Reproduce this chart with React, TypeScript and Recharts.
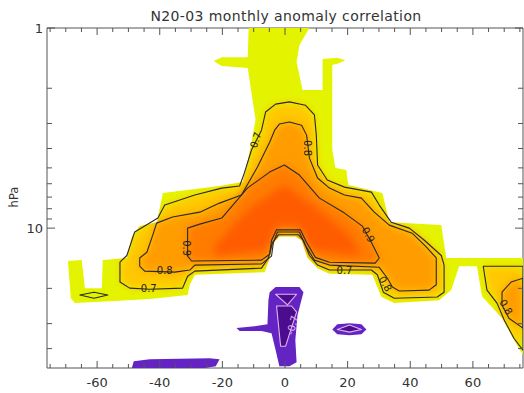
import React from 'react';
import { ScatterChart, Scatter, XAxis, YAxis } from 'recharts';

type Pt = [number, number]; // [degrees, hPa]

const chartTitle = 'N20-03 monthly anomaly correlation';
const xTicks = [-75, -70, -65, -60, -55, -50, -45, -40, -35, -30, -25, -20, -15, -10, -5, 0, 5, 10, 15, 20, 25, 30, 35, 40, 45, 50, 55, 60, 65, 70, 75];
const xLabels = [-60, -40, -20, 0, 20, 40, 60];
const yTicks = [1, 2, 3, 4, 5, 6, 7, 8, 9, 10, 20, 30, 40];
const yLabels = [1, 10];

// +0.6 shaded region (outer yellow edge)
const pos06: Pt[] = [
  [-11.6, 1], [7.8, 1], [4.6, 1.22], [3.7, 1.48], [5.6, 2.04], [12.0, 2.04], [12.0, 1.43], [16.7, 1.41],
  [19.3, 1.45], [16.7, 1.51], [15.1, 1.53], [15.1, 4.07], [16.1, 5.01], [19.6, 5.13], [20.2, 6.09],
  [31.1, 6.68], [33.3, 9.34], [49.9, 9.66], [51.5, 14.1], [76, 14.1], [76, 43.1], [74.1, 38.5],
  [69.3, 28.2], [62.9, 21.9], [61.3, 15.5], [55.6, 15.5], [53.1, 20.4], [49.2, 22.9], [34.9, 23.7],
  [30.8, 22.1], [27.9, 17.1], [14.2, 16.9], [10.4, 15.85], [7.2, 14.1], [5.3, 11.5], [3.3, 11.0],
  [-1.8, 11.0], [-3.7, 11.8], [-4.9, 14.1], [-6.5, 16.6], [-28.8, 17.1], [-30.4, 19.2], [-31.1, 21.6],
  [-43.2, 22.6], [-55.9, 23.2], [-67.1, 23.7], [-68.4, 22.4], [-69.3, 14.6], [-64.9, 14.45],
  [-63.9, 19.95], [-58.5, 19.95], [-58.2, 14.45], [-50.5, 14.1], [-48.9, 11.0], [-46.4, 9.77],
  [-40.9, 9.34], [-39.0, 6.68], [-20.9, 6.16], [-13.5, 5.89], [-12.3, 4.95], [-11.0, 3.94], [-9.4, 2.88],
  [-11.9, 1.585], [-20.2, 1.55], [-22.8, 1.46], [-20.2, 1.4], [-11.9, 1.4],
];

const pos07: Pt[] = [
  [-7.5, 3.24], [-6.2, 2.63], [-3.0, 2.4], [1.4, 2.34], [6.5, 2.43], [9.4, 2.72], [10.0, 3.43], [10.4, 4.84],
  [13.5, 5.75], [19.0, 6.24], [27.6, 6.61], [30.1, 7.67], [33.9, 9.34], [39.7, 10], [44.5, 11.5],
  [49.9, 13.7], [50.8, 15.3], [50.8, 20.9], [48.6, 22.1], [34.9, 22.4], [31.4, 20.9], [29.5, 17.1],
  [27.6, 16.2], [14.2, 16.2], [10.4, 15.3], [7.8, 13.7], [5.9, 11.5], [4.3, 10.8], [-2.1, 10.8],
  [-4.0, 11.8], [-5.3, 14.1], [-7.5, 15.85], [-28.8, 16.4], [-31.1, 17.4], [-32.7, 19.95], [-43.2, 20.2],
  [-49.6, 19.95], [-52.7, 18.6], [-52.7, 14.8], [-50.5, 13.7], [-48.0, 10.45], [-44.8, 9.77],
  [-40.6, 8.91], [-38.4, 7.67], [-28.8, 6.83], [-20.2, 6.31], [-14.5, 6.16], [-13.2, 5.43], [-10.7, 4.07],
];
const pos07Lens: Pt[] = [[-65.5, 21.6], [-61.0, 20.9], [-56.6, 21.6], [-61.0, 22.4]];
const pos07East: Pt[] = [[63.3, 15.5], [76, 15.5], [76, 40.7], [73.1, 35.5], [70.0, 28.8], [67.7, 23.7], [64.5, 20.4]];

const pos08: Pt[] = [
  [-3.3, 3.24], [-1.8, 3.02], [1.4, 2.95], [5.3, 3.06], [6.9, 3.43], [7.8, 4.47], [10.4, 5.62], [14.2, 6.31],
  [19.0, 6.83], [24.4, 7.08], [28.5, 8.32], [33.3, 9.66], [40.6, 10.6], [45.1, 12.4], [48.3, 14.1],
  [48.3, 19.2], [46.0, 20.4], [36.5, 20.6], [34.3, 19.7], [32.7, 17.8], [30.1, 15.7], [14.2, 15.3],
  [9.4, 14.45], [6.5, 12.2], [4.6, 10.45], [-2.4, 10.45], [-3.7, 11.8], [-4.3, 13.8], [-7.5, 15.1],
  [-28.8, 15.3], [-30.4, 16.2], [-35.2, 16.6], [-44.8, 16.4], [-46.4, 15.5], [-46.4, 14.1], [-44.1, 13.2],
  [-42.2, 10.8], [-41.0, 9.44], [-35.9, 8.8], [-27.2, 8.32], [-20.9, 7.5], [-13.9, 6.83], [-8.8, 4.95],
  [-4.9, 3.72],
];
const pos08East: Pt[] = [[76, 17.8], [72.2, 18.6], [69.3, 20.9], [69.3, 24.2], [71.5, 28.2], [76, 31.6]];

const pos09: Pt[] = [
  [-31.1, 10], [-27.2, 9.55], [-20.2, 8.91], [-12.0, 6.31], [-4.9, 5.25], [-0.2, 4.84], [4.6, 5.43],
  [11.0, 7.08], [19.0, 8.41], [24.7, 9.77], [27.6, 11.8], [30.1, 14.1], [28.8, 14.96], [14.2, 14.8],
  [9.7, 14.0], [6.9, 11.8], [4.9, 10.2], [-2.7, 10.2], [-4.3, 11.5], [-4.9, 13.5], [-7.5, 14.45],
  [-29.8, 14.6], [-31.1, 13.8],
];
const posCore: Pt[] = [
  [-22.4, 12.2], [-11.3, 7.94], [-0.2, 6.09], [11.0, 8.14], [20.6, 10.8], [24.4, 13.7], [8.4, 12.9],
  [4.6, 9.77], [-2.7, 9.77], [-5.6, 12.9], [-22.4, 13.8],
];

// negative correlation (-0.6 shaded, -0.7 contour)
const neg06Bar: Pt[] = [[-48.9, 50], [-48.3, 46.2], [-43.2, 45.2], [-24.1, 44.7], [-20.9, 45.2], [-22.1, 49.0], [-25.5, 50]];
const neg06Center: Pt[] = [
  [-4.9, 20.9], [-3.0, 19.7], [4.6, 19.7], [5.9, 20.9], [4.0, 27.2], [3.3, 36.3], [3.7, 46.8], [1.4, 49.0],
  [-1.8, 49.0], [-3.0, 40.7], [-4.3, 33.5], [-7.5, 32.7], [-14.5, 32.7], [-15.5, 31.6], [-9.7, 30.9],
  [-5.6, 30.2], [-5.3, 22.9],
];
const neg06Eye: Pt[] = [[15.1, 32.1], [16.7, 30.2], [20.6, 29.85], [24.4, 30.2], [26.0, 32.1], [24.4, 33.9], [20.6, 34.3], [16.7, 33.9]];
const neg07Tri: Pt[] = [[-3.0, 21.4], [3.7, 21.4], [0.8, 24.2]];
const neg07Loop: Pt[] = [[-2.7, 24.5], [-1.4, 38.9], [0.2, 38.9], [1.8, 32.4], [3.7, 26.3], [2.1, 24.5]];
const neg07Eye: Pt[] = [[16.7, 32.1], [20.6, 30.5], [24.4, 32.1], [20.6, 33.1]];

const contourLabels = [
  { lon: -9.4, hpa: 3.63, text: '0.7', angle: -72 },
  { lon: 7.2, hpa: 3.98, text: '0.8', angle: 90 },
  { lon: -31.4, hpa: 12.6, text: '0.9', angle: 90 },
  { lon: 26.6, hpa: 10.8, text: '0.9', angle: 62 },
  { lon: -38.4, hpa: 16.2, text: '0.8', angle: 0 },
  { lon: -43.5, hpa: 19.95, text: '0.7', angle: 0 },
  { lon: 19.0, hpa: 16.2, text: '0.7', angle: 0 },
  { lon: 32.0, hpa: 19.0, text: '0.8', angle: 60 },
  { lon: 70.6, hpa: 24.8, text: '0.8', angle: 60 },
  { lon: 2.4, hpa: 30.5, text: '-0.7', angle: -75 },
];

const axisColor = '#555';
const textColor = '#333';
const lineColor = '#2a2a2a';
const negLine = '#e4b4f2';
const font = 'DejaVu Sans';

const toData = (pts: Pt[]) => pts.map(([lon, hpa]) => ({ lon, hpa }));
const pathOf = (pts: { x: number; y: number }[]) =>
  pts.map((p, i) => `${i ? 'L' : 'M'}${p.x},${p.y}`).join('') + 'Z';

const noShape = () => <g />;

const mainFill = (color: string) => (props: any) => (
  <g>
    <defs>
      <clipPath id="clip-main">
        <path d={pathOf(props.points)} />
      </clipPath>
    </defs>
    <path d={pathOf(props.points)} fill={color} />
  </g>
);
const softFill = (color: string) => (props: any) => (
  <g clipPath="url(#clip-main)">
    <path d={pathOf(props.points)} fill={color} filter="url(#soft)" />
  </g>
);
const flatFill = (color: string) => (props: any) => <path d={pathOf(props.points)} fill={color} />;
const outline = (color: string, w: number) => (props: any) => (
  <path d={pathOf(props.points)} fill="none" stroke={color} strokeWidth={w} strokeLinejoin="round" />
);

const layers = [
  { pts: pos06, draw: mainFill('#e4f400') },
  { pts: pos07, draw: softFill('#ffc800') },
  { pts: pos07East, draw: softFill('#ffc800') },
  { pts: pos08, draw: softFill('#ff9c00') },
  { pts: pos08East, draw: softFill('#ff9c00') },
  { pts: pos09, draw: softFill('#ff7c00') },
  { pts: posCore, draw: softFill('#ff5c00') },
  { pts: neg06Bar, draw: flatFill('#6424c4') },
  { pts: neg06Center, draw: flatFill('#6424c4') },
  { pts: neg06Eye, draw: flatFill('#6424c4') },
  { pts: neg07Tri, draw: flatFill('#4c0c8e') },
  { pts: neg07Loop, draw: flatFill('#4c0c8e') },
  { pts: neg07Eye, draw: flatFill('#4c0c8e') },
  { pts: pos07, draw: outline(lineColor, 1.1) },
  { pts: pos07Lens, draw: outline(lineColor, 1.1) },
  { pts: pos07East, draw: outline(lineColor, 1.1) },
  { pts: pos08, draw: outline(lineColor, 1.1) },
  { pts: pos08East, draw: outline(lineColor, 1.1) },
  { pts: pos09, draw: outline(lineColor, 1.1) },
  { pts: neg07Tri, draw: outline(negLine, 1.1) },
  { pts: neg07Loop, draw: outline(negLine, 1.1) },
  { pts: neg07Eye, draw: outline(negLine, 1.1) },
];

const BottomTick = ({ x, y, payload }: any) => {
  const major = xLabels.includes(payload.value);
  return (
    <g>
      <line x1={x} x2={x} y1={y} y2={y - (major ? 7 : 4)} stroke={axisColor} />
      {major && (
        <text x={x} y={y + 19} textAnchor="middle" fontSize={13} fontFamily={font} fill={textColor}>
          {payload.value}
        </text>
      )}
    </g>
  );
};
const TopTick = ({ x, y, payload }: any) => {
  const major = xLabels.includes(payload.value);
  return <line x1={x} x2={x} y1={y} y2={y + (major ? 7 : 4)} stroke={axisColor} />;
};
const LeftTick = ({ x, y, payload }: any) => {
  const major = yLabels.includes(payload.value);
  return (
    <g>
      <line x1={x} x2={x + (major ? 8 : 5)} y1={y} y2={y} stroke={axisColor} />
      {major && (
        <text x={x - 4} y={y + 4.5} textAnchor="end" fontSize={13} fontFamily={font} fill={textColor}>
          {payload.value}
        </text>
      )}
    </g>
  );
};
const RightTick = ({ x, y, payload }: any) => {
  const major = yLabels.includes(payload.value);
  return <line x1={x} x2={x - (major ? 8 : 5)} y1={y} y2={y} stroke={axisColor} />;
};

const LabelShape = (props: any) => {
  const { cx, cy, payload } = props;
  const neg = payload.text.startsWith('-');
  return (
    <text
      x={cx}
      y={cy}
      dy={3.5}
      textAnchor="middle"
      fontSize={10}
      fontFamily={font}
      fill={neg ? negLine : '#222'}
      transform={`rotate(${payload.angle} ${cx} ${cy})`}
    >
      {payload.text}
    </text>
  );
};

export default function App() {
  return (
    <div style={{ position: 'absolute', left: 0, top: 0, width: 524, height: 393, background: '#fff' }}>
      <ScatterChart width={524} height={393} margin={{ top: 27, right: 0, bottom: 0, left: 0 }}>
        <XAxis
          type="number"
          dataKey="lon"
          domain={[-76, 76]}
          allowDataOverflow
          ticks={xTicks}
          interval={0}
          height={25}
          tickSize={0}
          tickMargin={0}
          tickLine={false}
          tick={BottomTick}
          axisLine={{ stroke: axisColor }}
        />
        <XAxis
          xAxisId="top"
          orientation="top"
          type="number"
          dataKey="lon"
          domain={[-76, 76]}
          allowDataOverflow
          ticks={xTicks}
          interval={0}
          height={1}
          tickSize={0}
          tickMargin={0}
          tickLine={false}
          tick={TopTick}
          axisLine={{ stroke: axisColor }}
        />
        <YAxis
          type="number"
          dataKey="hpa"
          scale="log"
          domain={[1, 50]}
          allowDataOverflow
          reversed
          ticks={yTicks}
          interval={0}
          width={47}
          tickSize={0}
          tickMargin={0}
          tickLine={false}
          tick={LeftTick}
          axisLine={{ stroke: axisColor }}
        />
        <YAxis
          yAxisId="right"
          orientation="right"
          type="number"
          dataKey="hpa"
          scale="log"
          domain={[1, 50]}
          allowDataOverflow
          reversed
          ticks={yTicks}
          interval={0}
          width={1}
          tickSize={0}
          tickMargin={0}
          tickLine={false}
          tick={RightTick}
          axisLine={{ stroke: axisColor }}
        />
        {/* frame series so the top and right axes get drawn */}
        <Scatter xAxisId="top" yAxisId="right" data={toData(pos06)} shape={noShape} isAnimationActive={false} />
        {layers.map((l, i) => (
          <Scatter
            key={`layer-${i}`}
            data={toData(l.pts)}
            shape={noShape}
            line={l.draw}
            lineType="joint"
            isAnimationActive={false}
          />
        ))}
        <Scatter data={contourLabels} shape={LabelShape} isAnimationActive={false} />
      </ScatterChart>
      <svg width={524} height={393} style={{ position: 'absolute', left: 0, top: 0, pointerEvents: 'none' }}>
        <defs>
          <filter id="soft" x="-20%" y="-20%" width="140%" height="140%">
            <feGaussianBlur stdDeviation="4" />
          </filter>
        </defs>
        <text x={286} y={21} textAnchor="middle" fontSize={14} letterSpacing={0.4} fontFamily={font} fill={textColor}>
          {chartTitle}
        </text>
        <text x={18} y={197} textAnchor="middle" fontSize={11.5} fontFamily={font} fill={textColor} transform="rotate(-90 18 197)">
          hPa
        </text>
      </svg>
    </div>
  );
}
